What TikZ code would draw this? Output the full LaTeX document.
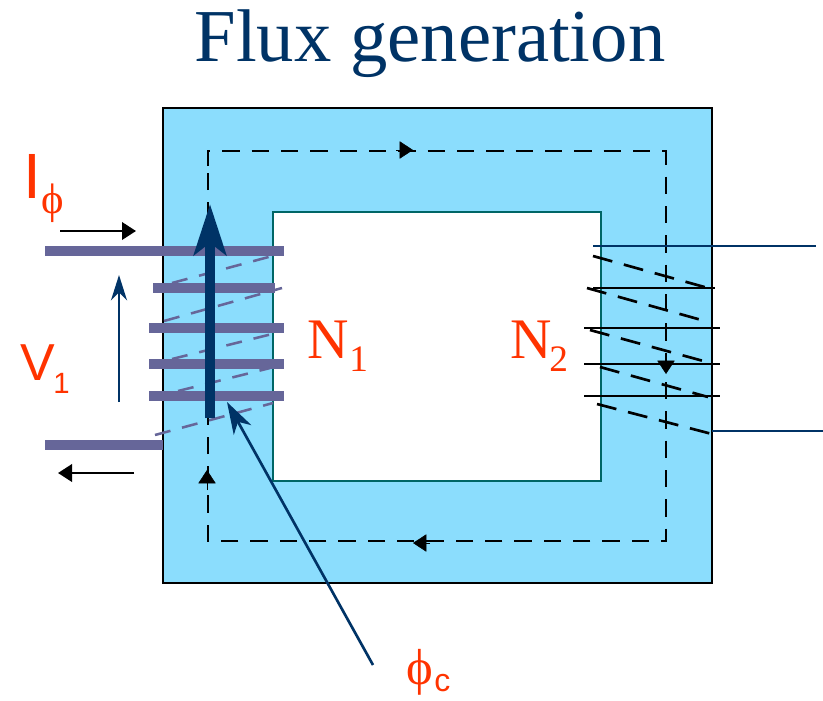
\documentclass[tikz,border=0pt]{standalone}
\usepackage{fontspec}
\setmainfont{Liberation Serif}
\setsansfont{Liberation Sans}
\usetikzlibrary{arrows.meta}
\definecolor{corefill}{HTML}{8BDDFD}
\definecolor{coreedge}{HTML}{006666}
\definecolor{navy}{HTML}{003366}
\definecolor{wire}{HTML}{666699}
\definecolor{orangetext}{HTML}{FF3300}
\tikzset{
  wirethick/.style={wire,line width=7.5pt},
  wiredash/.style={wire,line width=1.9pt,dash pattern=on 12pt off 9pt},
  turnline/.style={black,line width=2pt},
  turndash/.style={black,line width=2pt,dash pattern=on 15pt off 9pt},
  loopline/.style={black,line width=2.2pt,dash pattern=on 13pt off 9pt},
  smallblack/.style={black,line width=2pt,-{Triangle[length=10.5pt,width=13pt]}},
  flowtip/.style={-{Triangle[length=10pt,width=13pt]}},
  navythin/.style={navy,line width=1.8pt,-{Stealth[length=19pt,width=12pt,inset=6pt]}},
  txt/.style={orangetext,inner sep=0pt,anchor=base west}
}
\begin{document}
\begin{tikzpicture}[x=0.75pt,y=-0.75pt]
\useasboundingbox (0,0) rectangle (823,700);
\node[navy,inner sep=0pt,anchor=base,font=\fontsize{56}{56}\selectfont] (title) at (430,61) {Flux generation};
% core
\draw[black,line width=2.2pt,fill=corefill] (163,108) rectangle (712,583);
\draw[coreedge,line width=2.2pt,fill=white] (273,212) rectangle (601,481);
% flux loop
\draw[loopline] (208,166) -- (208,151) -- (666,151) -- (666,541) -- (208,541) -- (208,166);
\coordinate (la) at (396,150); \coordinate (lb) at (413,150);
\draw[flowtip] (la) -- (lb);
\coordinate (lc) at (430,543); \coordinate (ld) at (413,543);
\draw[flowtip] (lc) -- (ld);
\coordinate (le) at (207,490); \coordinate (lf) at (207,470);
\draw[flowtip] (le) -- (lf);
\coordinate (lg) at (666,358); \coordinate (lh) at (666,374);
\draw[flowtip] (lg) -- (lh);
% primary winding
\draw[wiredash] (172,283) -- (276,255);
\draw[wiredash] (164,321) -- (282,288);
\draw[wiredash] (172,359) -- (276,333);
\draw[wiredash] (178,391) -- (270,368);
\draw[wiredash] (155,435) -- (273,403);
\draw[wirethick] (45,251) -- (284,251);
\draw[wirethick] (153,288) -- (275,288);
\draw[wirethick] (149,328) -- (284,328);
\draw[wirethick] (149,364) -- (284,364);
\draw[wirethick] (149,396) -- (284,396);
\draw[wirethick] (45,445) -- (163,445);
% flux arrow
\coordinate (fa) at (210,418); \coordinate (fb) at (210,204);
\draw[navy,line width=7.5pt,-{Stealth[length=38pt,width=24pt,inset=9pt]}] (fa) -- (fb);
% secondary winding
\draw[navy,line width=2pt] (593,246) -- (816,246);
\draw[navy,line width=2pt] (712,431) -- (823,431);
\draw[turnline] (593,288) -- (715,288);
\draw[turnline] (584,328) -- (720,328);
\draw[turnline] (584,364) -- (720,364);
\draw[turnline] (584,396) -- (720,396);
\draw[turndash] (593,256) -- (708,288);
\draw[turndash] (587,288) -- (705,321);
\draw[turndash] (590,330) -- (707,362);
\draw[turndash] (600,367) -- (708,397);
\draw[turndash] (597,404) -- (712,434);
% terminals
\coordinate (ia) at (60,231); \coordinate (ib) at (136,231);
\draw[smallblack] (ia) -- (ib);
\coordinate (ic) at (134,473); \coordinate (id) at (58,473);
\draw[smallblack] (ic) -- (id);
\coordinate (va) at (119,402); \coordinate (vb) at (119,275);
\draw[navythin] (va) -- (vb);
% labels
\node[txt,font=\sffamily\fontsize{48}{48}\selectfont] (iphi) at (23,198) {I};
\node[txt,font=\fontsize{32}{32}\selectfont] (iphisub) at (41,213) {ϕ};
\node[txt,font=\sffamily\fontsize{39}{39}\selectfont] (v) at (20,380) {V};
\node[txt,font=\sffamily\fontsize{22}{22}\selectfont] (vsub) at (53,393) {1};
\node[txt,font=\fontsize{43}{43}\selectfont] (n1) at (307,358) {N};
\node[txt,font=\fontsize{28}{28}\selectfont] (n1sub) at (349,371) {1};
\node[txt,font=\fontsize{43}{43}\selectfont] (n2) at (510,358) {N};
\node[txt,font=\fontsize{28}{28}\selectfont] (n2sub) at (549,371) {2};
\node[txt,font=\fontsize{38}{38}\selectfont] (phic) at (406,684) {ϕ};
\node[txt,font=\sffamily\fontsize{24}{24}\selectfont] (phicsub) at (434,691) {c};
% pointer
\coordinate (pa) at (373,665); \coordinate (pb) at (227,402);
\draw[navy,line width=2pt,-{Stealth[length=24pt,width=15pt,inset=7pt]}] (pa) -- (pb);
\end{tikzpicture}
\end{document}
